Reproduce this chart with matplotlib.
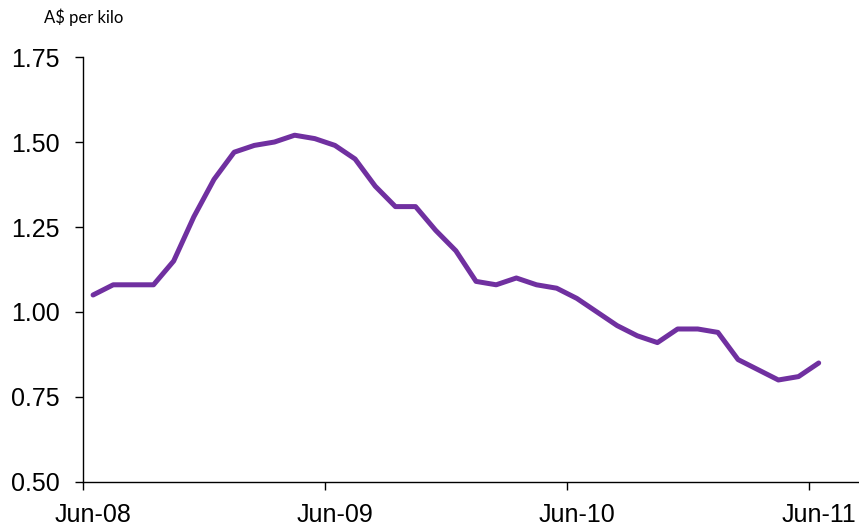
import numpy as np
import matplotlib.pyplot as plt

# Monthly prices, Jun-08 .. Jun-11
months = np.arange(37)
price = [1.05, 1.08, 1.08, 1.08, 1.15, 1.28, 1.39, 1.47, 1.49, 1.50,
         1.52, 1.51, 1.49, 1.45, 1.37, 1.31, 1.31, 1.24, 1.18, 1.09,
         1.08, 1.10, 1.08, 1.07, 1.04, 1.00, 0.96, 0.93, 0.91, 0.95,
         0.95, 0.94, 0.86, 0.83, 0.80, 0.81, 0.85]
tick_pos = [0, 12, 24, 36]
tick_labels = ["Jun-08", "Jun-09", "Jun-10", "Jun-11"]
y_ticks = [0.50, 0.75, 1.00, 1.25, 1.50, 1.75]

plt.rcParams['font.family'] = ['Liberation Sans', 'DejaVu Sans']

fig = plt.figure(figsize=(8.59, 5.26), dpi=100)
ax = fig.add_axes([0.0966, 0.0837, 0.9034, 0.8079])

# points sit between tick marks (Excel style)
ax.plot(months + 0.5, price, color="#7030A0", linewidth=3.6,
        solid_joinstyle="round", solid_capstyle="round")

ax.set_xlim(0, 38.5)
ax.set_ylim(0.50, 1.75)

# tick marks at the year boundaries, labels a half month to the right
ax.set_xticks(tick_pos)
ax.set_xticklabels([])
ax.set_xticks([p + 0.5 for p in tick_pos], minor=True)
ax.set_xticklabels(tick_labels, minor=True)
ax.set_yticks(y_ticks)
ax.set_yticklabels([f"{v:.2f}" for v in y_ticks])

for side in ["top", "right"]:
    ax.spines[side].set_visible(False)
for side in ["left", "bottom"]:
    ax.spines[side].set_linewidth(1.0)
    ax.spines[side].set_color("black")

ax.tick_params(axis="both", which="major", direction="out", length=5.5, width=1,
               labelsize=18, colors="black")
ax.tick_params(axis="x", which="minor", length=0, labelsize=18, pad=15)
ax.tick_params(axis="y", pad=11)

fig.text(0.051, 0.967, "A$ per kilo", fontsize=12, family=["Lato", "DejaVu Sans"],
         va="center", ha="left")

fig.savefig("out.png", dpi=100)
